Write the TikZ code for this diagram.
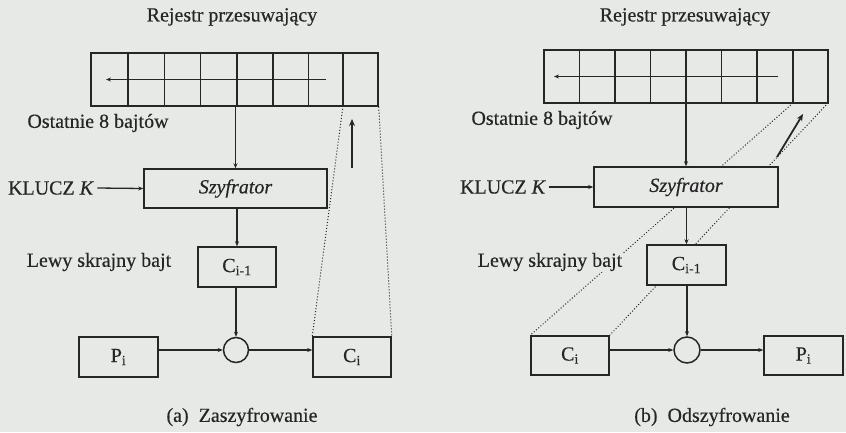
\documentclass[tikz,border=0pt]{standalone}
\usepackage{fontspec}
\setmainfont{Liberation Serif}[FakeBold=0.4]
\usetikzlibrary{arrows.meta,calc}
\definecolor{bgc}{HTML}{E6E9E6}
\definecolor{ink}{HTML}{262626}
\begin{document}
\begin{tikzpicture}[x=1pt,y=-1pt,
  every node/.style={text=ink,font=\fontsize{20}{22}\selectfont},
  box/.style={draw=ink,fill=bgc,line width=1.5pt,inner sep=0pt,anchor=center},
  lbl/.style={inner sep=1pt,fill=bgc},
  conn/.style={draw=ink,line width=1.3pt},
  arr/.style={conn,-{Stealth[length=5pt,width=4pt]}},
  bigarr/.style={draw=ink,line width=1.8pt,-{Stealth[length=7pt,width=6pt]}},
  dots/.style={draw=ink,line width=1pt,dotted},
  xorc/.style={draw=ink,fill=bgc,line width=1.5pt,circle,inner sep=0pt}]
\fill[bgc] (0,0) rectangle (846,432);
\useasboundingbox (0,0) rectangle (846,432);

% ================= (a) =================
\node (titA) at (232,17) {Rejestr przesuwający};
\node[box,minimum width=287pt,minimum height=53pt] (regA) at (234.5,79.5) {};
\foreach \xx in {127.9,164.3,200.6,236.9,273.1,308.4} {\draw[conn] (\xx,53) -- (\xx,106);}
\coordinate (cutA) at (343,106);
\draw[conn] (343,53) -- (cutA);
\coordinate (ahA1) at (326,79.5);
\coordinate (ahA2) at (106,79.5);
\draw[arr] (ahA1) -- (ahA2);
\node (ostA) at (98,123) {Ostatnie 8 bajtów};
\node[box,minimum width=183pt,minimum height=39pt] (szA) at (235.5,188.5) {\itshape Szyfrator};
\node (kA) at (51,188) {KLUCZ \textit{K}};
\node[box,minimum width=78pt,minimum height=40pt] (cpA) at (237,267) {C\textsubscript{i-1}};
\node (lewA) at (99,262) {Lewy skrajny bajt};
\node[xorc,minimum size=25pt] (xA) at (236,350) {};
\node[box,minimum width=79pt,minimum height=40pt] (pA) at (118.5,357) {P\textsubscript{i}};
\node[box,minimum width=78pt,minimum height=40pt] (ciA) at (352,357) {C\textsubscript{i}};
\node (capA) at (242,417) {(a)\ \ Zaszyfrowanie};
\coordinate (upA1) at (352,168);
\coordinate (upA2) at (352,119);
\draw[bigarr] (upA1) -- (upA2);
\draw[dots] (cutA) -- (ciA.north west);
\draw[dots] (regA.south east) -- (ciA.north east);
\draw[arr] (regA.south -| szA.north) -- (szA.north);
\draw[arr] (kA.east) -- (szA.west);
\draw[arr] (szA.south -| cpA.north) -- (cpA.north);
\draw[arr] (cpA.south -| xA.north) -- (xA.north);
\draw[arr] (pA.east |- xA.center) -- (xA.west);
\draw[arr] (xA.east) -- (ciA.west |- xA.center);

% ================= (b) =================
\node (titB) at (685,17) {Rejestr przesuwający};
\node[box,minimum width=78pt,minimum height=39pt] (ciB) at (570,355.5) {C\textsubscript{i}};
\coordinate (cutB) at (793,103);
\draw[dots] (cutB) -- (ciB.north west);
\draw[dots] (828,103) -- (ciB.north east);
\node[box,minimum width=284pt,minimum height=53pt] (regB) at (686,76.5) {};
\foreach \xx in {579.5,615,650.5,686,721.5,757} {\draw[conn] (\xx,50) -- (\xx,103);}
\draw[conn] (793,50) -- (cutB);
\coordinate (ahB1) at (778,76.5);
\coordinate (ahB2) at (554,76.5);
\draw[arr] (ahB1) -- (ahB2);
\node (ostB) at (542,120) {Ostatnie 8 bajtów};
\node[lbl] (lewB) at (550,262) {Lewy skrajny bajt};
\node[box,minimum width=184pt,minimum height=40pt] (szB) at (686,187) {\itshape Szyfrator};
\node (kB) at (503,187) {KLUCZ \textit{K}};
\node[box,minimum width=79pt,minimum height=40pt] (cpB) at (686.5,265) {C\textsubscript{i-1}};
\node[xorc,minimum size=26pt] (xB) at (687,350) {};
\node[box,minimum width=79pt,minimum height=39pt] (pB) at (803.5,355.5) {P\textsubscript{i}};
\node (capB) at (712,417) {(b)\ \ Odszyfrowanie};
\coordinate (dgB1) at (777,157);
\coordinate (dgB2) at (803,114);
\draw[bigarr] (dgB1) -- (dgB2);
\draw[arr] (regB.south) -- (szB.north);
\draw[arr] (kB.east) -- (szB.west);
\draw[arr] (szB.south -| cpB.north) -- (cpB.north);
\draw[arr] (cpB.south -| xB.north) -- (xB.north);
\draw[arr] (ciB.east |- xB.center) -- (xB.west);
\draw[arr] (xB.east) -- (pB.west |- xB.center);
\end{tikzpicture}
\end{document}
